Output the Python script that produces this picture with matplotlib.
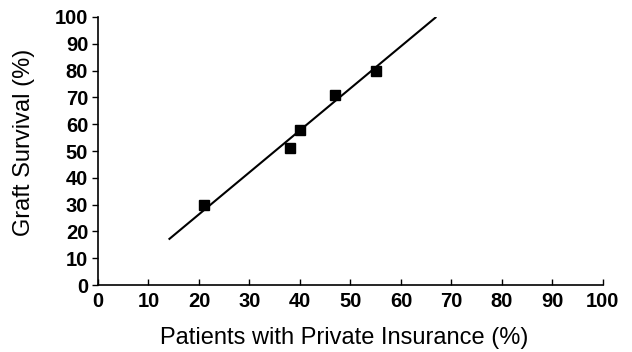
import matplotlib
matplotlib.use('Agg')
from matplotlib import pyplot as plt

# data
insurance = [21, 38, 40, 47, 55]
survival = [30, 51, 58, 71, 80]
fitX = [14, 67]
fitY = [17, 100]
ticks = list(range(0, 101, 10))

plt.rcParams['font.family'] = ['Liberation Sans', 'DejaVu Sans']

fig = plt.figure(figsize=(6.32, 3.52), dpi=100)
ax = fig.add_axes([0.155, 0.19, 0.799, 0.762])

ax.plot(fitX, fitY, color='black', linewidth=1.5, solid_capstyle='butt')
ax.plot(insurance, survival, 's', color='black', markersize=6.5)

ax.set_xlim(0, 100)
ax.set_ylim(0, 100)
ax.set_xticks(ticks)
ax.set_yticks(ticks)
ax.spines['top'].set_visible(False)
ax.spines['right'].set_visible(False)
for side in ['left', 'bottom']:
    ax.spines[side].set_linewidth(1.2)
ax.tick_params(axis='x', direction='in', length=4, width=1, labelsize=14.5, pad=5)
ax.tick_params(axis='y', direction='out', length=4, width=1, labelsize=14.5, pad=3)
for lab in ax.get_xticklabels() + ax.get_yticklabels():
    lab.set_fontweight('bold')

ax.set_xlabel('Patients with Private Insurance (%)', fontsize=17)
ax.set_ylabel('Graft Survival (%)', fontsize=17)
ax.xaxis.set_label_coords(0.487, -0.155)
ax.yaxis.set_label_coords(-0.125, 0.534)

fig.savefig('out.png', dpi=100)
